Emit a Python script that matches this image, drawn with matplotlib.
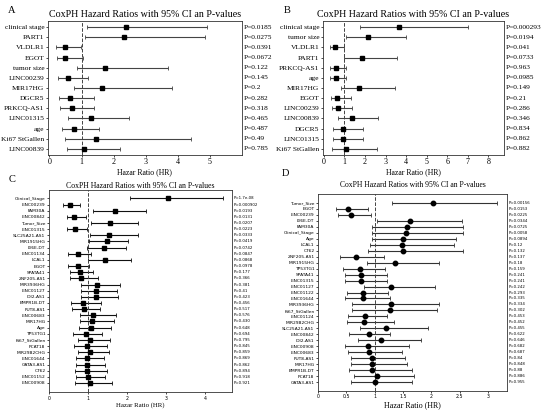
import matplotlib
matplotlib.use('Agg')
import matplotlib.pyplot as plt

TITLE = 'CoxPH Hazard Ratios with 95% CI an P-values'
XLABEL = 'Hazar Ratio (HR)'

# Panel A
a_names = ['clinical stage', 'PART1', 'VLDLR1', 'EGOT', 'tumor size', 'LINC00239', 'MIR17HG',
           'DGCR5', 'PRKCQ-AS1', 'LINC01315', 'age', 'Ki67 StGallen', 'LINC00839']
a_hr = [2.40, 2.31, 0.48, 0.50, 1.73, 0.57, 1.65, 0.65, 0.71, 1.30, 0.77, 1.46, 1.08]
a_lo = [1.17, 1.12, 0.21, 0.23, 0.86, 0.26, 0.75, 0.31, 0.33, 0.59, 0.40, 0.48, 0.54]
a_hi = [4.90, 4.84, 0.99, 1.04, 3.68, 1.20, 3.83, 1.40, 1.40, 2.48, 1.53, 4.40, 2.20]
a_p = ['0.0185', '0.0275', '0.0391', '0.0672', '0.122', '0.145', '0.2', '0.282', '0.318',
       '0.465', '0.487', '0.49', '0.785']

# Panel B
b_names = ['clinical stage', 'tumor size', 'VLDLR1', 'PART1', 'PRKCQ-AS1', 'age', 'MIR17HG',
           'EGOT', 'LINC00239', 'LINC00839', 'DGCR5', 'LINC01315', 'Ki67 StGallen']
b_hr = [3.65, 2.14, 0.52, 1.85, 0.57, 0.58, 1.70, 0.65, 0.71, 1.36, 0.92, 0.92, 1.07]
b_lo = [1.78, 1.09, 0.28, 0.97, 0.28, 0.28, 0.81, 0.36, 0.39, 0.68, 0.44, 0.45, 0.39]
b_hi = [7.00, 4.00, 0.97, 3.57, 1.09, 1.09, 3.47, 1.30, 1.36, 2.63, 1.90, 1.90, 2.59]
b_p = ['0.000293', '0.0194', '0.041', '0.0733', '0.963', '0.0985', '0.149', '0.21', '0.286',
       '0.346', '0.834', '0.862', '0.882']

# Panel C
c_names = ['Clinical_Stage', 'LINC00239', 'FAM30A', 'LINC00842', 'Tumor_Size', 'LINC01315',
           'SLC25A21-AS1', 'MIR1915HG', 'LY6E-DT', 'LINC01134', 'LCAL1', 'EGOT', 'SPATA41',
           'ZNF205-AS1', 'MIR3936HG', 'LINC01127', 'IDI2-AS1', 'BMPR1B-DT', 'FUT8-AS1',
           'LINC00683', 'MIR17HG', 'Age', 'TP53TG1', 'Ki67_StGallen', 'PCAT18', 'MIR29B2CHG',
           'LINC01644', 'GATA3-AS1', 'CT62', 'LINC01152', 'LINC00908']
c_hr = [3.05, 0.55, 1.70, 0.65, 1.57, 0.66, 1.55, 1.49, 1.40, 0.75, 1.43, 0.74, 0.79, 0.83,
        1.23, 1.20, 1.20, 0.87, 0.91, 1.13, 1.11, 1.09, 0.94, 1.05, 0.97, 1.05, 0.98, 0.98,
        0.98, 1.00, 1.05]
c_lo = [2.07, 0.37, 1.14, 0.46, 1.09, 0.46, 1.05, 1.03, 0.98, 0.50, 1.00, 0.50, 0.53, 0.55,
        0.81, 0.81, 0.81, 0.57, 0.59, 0.79, 0.79, 0.77, 0.63, 0.74, 0.65, 0.74, 0.70, 0.70,
        0.68, 0.70, 0.68]
c_hi = [4.46, 0.79, 2.48, 0.94, 2.29, 0.97, 2.29, 2.03, 1.98, 1.07, 2.11, 1.03, 1.14, 1.26,
        1.83, 1.75, 1.77, 1.33, 1.31, 1.72, 1.66, 1.59, 1.37, 1.57, 1.49, 1.55, 1.42, 1.43,
        1.49, 1.43, 1.61]
c_p = ['1.7e-08', '0.000902', '0.0193', '0.0131', '0.0207', '0.0223', '0.0333', '0.0419',
       '0.0742', '0.0847', '0.0868', '0.0978', '0.177', '0.366', '0.381', '0.41', '0.423',
       '0.456', '0.517', '0.576', '0.430', '0.648', '0.694', '0.795', '0.845', '0.859',
       '0.869', '0.862', '0.894', '0.918', '0.921']

# Panel D
d_names = ['Tumor_Size', 'EGOT', 'LINC00239', 'LY6E-DT', 'FAM30A', 'Clinical_Stage', 'Age',
           'LCAL1', 'CT62', 'ZNF205-AS1', 'MIR1915HG', 'TP53TG1', 'SPATA41', 'LINC01315',
           'LINC01127', 'LINC01122', 'LINC01644', 'MIR3936HG', 'Ki67_StGallen', 'LINC01124',
           'MIR29B2CHG', 'SLC25A21-AS1', 'LINC00842', 'IDI2-AS1', 'LINC00908', 'LINC00683',
           'FUT8-AS1', 'MIR17HG', 'BMPR1B-DT', 'PCAT18', 'GATA3-AS1']
d_hr = [2.04, 0.53, 0.59, 1.63, 1.57, 1.56, 1.51, 1.48, 1.51, 0.67, 1.36, 0.75, 0.76, 0.76,
        1.29, 0.79, 0.79, 1.29, 1.28, 0.84, 0.82, 1.21, 0.91, 1.12, 0.89, 0.91, 0.95, 0.96,
        0.96, 1.04, 1.00]
d_lo = [1.31, 0.32, 0.36, 1.04, 0.96, 0.95, 0.95, 0.92, 0.89, 0.39, 0.86, 0.45, 0.48, 0.48,
        0.82, 0.51, 0.48, 0.60, 0.60, 0.53, 0.51, 0.75, 0.55, 0.71, 0.48, 0.53, 0.59, 0.59,
        0.55, 0.63, 0.59]
d_hi = [3.16, 0.89, 0.94, 2.55, 2.57, 2.57, 2.44, 2.41, 2.57, 1.16, 2.13, 1.19, 1.22, 1.22,
        2.06, 1.24, 1.28, 2.13, 2.10, 1.22, 1.35, 1.95, 1.28, 1.82, 1.61, 1.48, 1.54, 1.57,
        1.66, 1.69, 1.66]
d_p = ['0.00156', '0.0153', '0.0225', '0.0344', '0.0725', '0.0058', '0.0894', '0.12', '0.132',
       '0.137', '0.18', '0.159', '0.241', '0.241', '0.242', '0.293', '0.335', '0.334', '0.302',
       '0.453', '0.452', '0.455', '0.622', '0.646', '0.682', '0.687', '0.84', '0.848', '0.88',
       '0.886', '0.955']

SERIF = 'Liberation Serif'
SANS = 'DejaVu Sans'


def forest(ax, names, hr, lo, hi, pvals, xlim, xticks, pad, lab_font, lab_size,
           p_size, marker, msize, line_color, tick_size, title_size, xlab_size, title_pad):
    n = len(names)
    ys = list(range(n))[::-1]
    xerr = [[h - l for h, l in zip(hr, lo)], [u - h for h, u in zip(hr, hi)]]
    ax.errorbar(hr, ys, xerr=xerr, fmt=marker, color='black', ecolor=line_color,
                elinewidth=0.8, capsize=1.2, capthick=0.6, markersize=msize)
    ax.axvline(1, color='#444444', linestyle='--', linewidth=0.7)
    ax.set_yticks(ys)
    ax.set_yticklabels(names, fontfamily=lab_font, fontsize=lab_size)
    ax.set_xlim(*xlim)
    ax.set_ylim(-pad[0], n - 1 + pad[1])
    ax.set_xticks(xticks)
    ax.set_xticklabels([('%g' % t) for t in xticks], fontfamily=lab_font, fontsize=tick_size)
    ax.tick_params(length=1.5, width=0.5, pad=1)
    for s in ax.spines.values():
        s.set_linewidth(0.6)
        s.set_color('#333333')
    for y, p in zip(ys, pvals):
        ax.text(1.01, y, 'P=' + p, transform=ax.get_yaxis_transform(),
                va='center', ha='left', fontfamily=lab_font, fontsize=p_size)
    ax.set_title(TITLE, fontfamily=SERIF, fontsize=title_size, pad=title_pad)
    ax.set_xlabel(XLABEL, fontfamily=SERIF, fontsize=xlab_size, labelpad=1)


fig = plt.figure(figsize=(5.5, 4.12), dpi=100)

ax_a = fig.add_axes([0.087, 0.624, 0.353, 0.325])
forest(ax_a, a_names, a_hr, a_lo, a_hi, a_p, (-0.05, 6.0), [0, 1, 2, 3, 4, 5], (0.6, 0.6),
       SERIF, 5.4, 5.3, 's', 2.8, '#444444', 5.8, 7.2, 5.6, 3)

ax_b = fig.add_axes([0.587, 0.624, 0.329, 0.325])
forest(ax_b, b_names, b_hr, b_lo, b_hi, b_p, (-0.05, 8.75), [0, 1, 2, 3, 4, 5, 6, 7, 8],
       (0.6, 0.6), SERIF, 5.4, 5.3, 's', 2.8, '#444444', 5.8, 7.2, 5.6, 3)

ax_c = fig.add_axes([0.089, 0.048, 0.333, 0.49])
forest(ax_c, c_names, c_hr, c_lo, c_hi, c_p, (0, 4.7), [0, 1, 2, 3, 4], (1.5, 1.3),
       SANS, 3.2, 2.8, 's', 3.2, '#111111', 3.4, 5.6, 4.9, 2)

ax_d = fig.add_axes([0.578, 0.051, 0.344, 0.478])
forest(ax_d, d_names, d_hr, d_lo, d_hi, d_p, (0, 3.34), [0, 0.5, 1, 1.5, 2, 2.5, 3], (1.5, 1.5),
       SANS, 3.2, 2.8, 'o', 3.2, '#333333', 3.4, 5.5, 5.8, 5)

for lbl, x, y in [('A', 0.015, 0.985), ('B', 0.515, 0.985), ('C', 0.015, 0.575), ('D', 0.513, 0.59)]:
    fig.text(x, y, lbl, fontfamily=SERIF, fontsize=7.5, va='top', ha='left')

fig.savefig('out.png', dpi=100)
